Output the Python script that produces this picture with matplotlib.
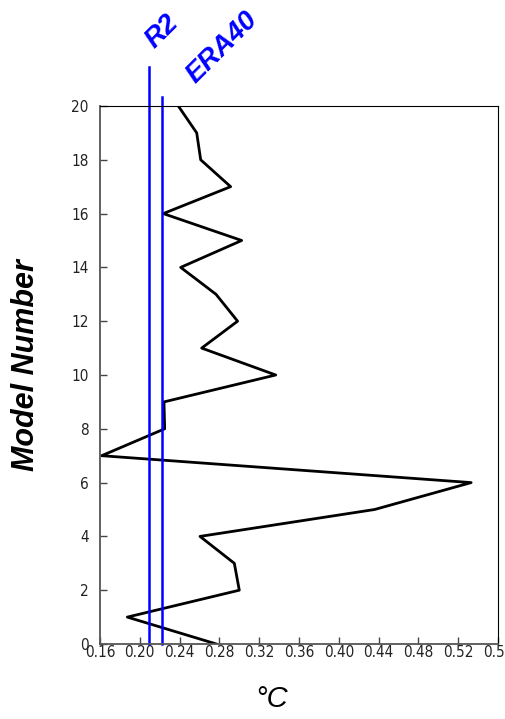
import matplotlib.pyplot as plt

# spread of each model (x) against model number (y)
model_number = list(range(0, 21))
spread = [0.277, 0.1875, 0.300, 0.295, 0.2605, 0.436, 0.533, 0.1617, 0.225, 0.2243,
          0.3366, 0.2622, 0.2983, 0.2766, 0.2411, 0.3024, 0.2236, 0.2913, 0.2612,
          0.2572, 0.2387]

# reanalysis reference values
ref_names = ["R2", "ERA40"]
ref_values = [0.209, 0.2223]
ref_tops = [21.46, 20.35]
ref_label_pos = [(0.2223, 22.75), (0.2826, 22.19)]

xticks = [0.16, 0.20, 0.24, 0.28, 0.32, 0.36, 0.40, 0.44, 0.48, 0.52, 0.56]
yticks = list(range(0, 21, 2))

fig = plt.figure(figsize=(5.06, 7.19), dpi=100)
ax = fig.add_axes([0.1976, 0.1043, 0.7866, 0.7483])

ax.plot(spread, model_number, color="black", lw=2)

for name, val, top, (lx, ly) in zip(ref_names, ref_values, ref_tops, ref_label_pos):
    ax.plot([val, val], [0, top], color="#0000ff", lw=1.8, clip_on=False)
    ax.text(lx, ly, name, color="#0000ff", fontsize=20, fontweight="bold",
            fontstyle="italic", family="Liberation Sans", rotation=45,
            ha="center", va="center")

ax.set_xlim(0.16, 0.56)
ax.set_ylim(0, 20)
ax.set_xticks(xticks)
ax.set_xticklabels([f"{v:.2f}" for v in xticks])
ax.set_yticks(yticks)
ax.tick_params(direction="in", length=5, width=1, colors="#444444",
               labelsize=11, labelcolor="#222222", top=False, right=False)
ax.tick_params(axis="x", pad=1)
ax.tick_params(axis="y", pad=8)
for lbl in ax.get_xticklabels() + ax.get_yticklabels():
    lbl.set_family("DejaVu Sans")
    lbl.set_stretch("condensed")

for side in ["left", "bottom"]:
    ax.spines[side].set_color("#555555")
    ax.spines[side].set_linewidth(1.3)
for side in ["top", "right"]:
    ax.spines[side].set_color("black")
    ax.spines[side].set_linewidth(0.8)

fig.text(0.052, 0.492, "Model Number", rotation=90, fontsize=22, fontweight="bold",
         fontstyle="italic", family="Liberation Sans", ha="center", va="center")
fig.text(0.536, 0.028, "°C", fontsize=21, fontstyle="italic",
         family="Liberation Sans", ha="center", va="center")

fig.savefig("out.png", dpi=100)
